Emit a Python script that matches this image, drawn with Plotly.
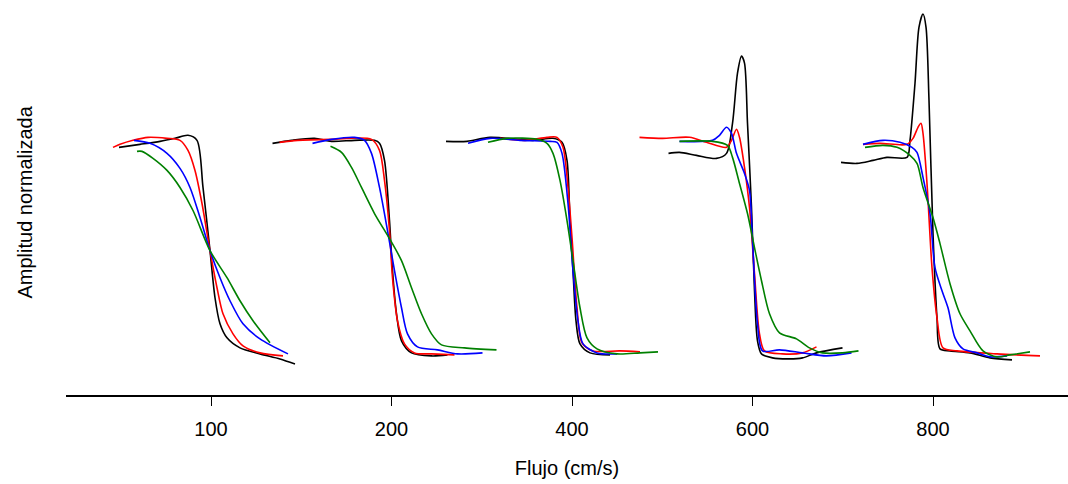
import plotly.graph_objects as go

# Flow categories (tick labels) and the four traces per category.
# Each series: (offset from the category centre, amplitude) pairs.
FLOWS = ["100", "200", "400", "600", "800"]
COLORS = {"black": "#000000", "red": "#FF0000", "blue": "#0000FF", "green": "#008000"}

BLACK_100 = [(-92, 205), (-71, 208), (-51, 211), (-36, 214), (-23, 217), (-14, 212), (-8, 165), (-1, 102),
             (4, 55), (9, 29), (16, 15), (29, 5), (49, -1), (69, -6), (84, -11)]
RED_100 = [(-98, 205), (-91, 208), (-78, 212), (-63, 215), (-44, 214), (-31, 212), (-23, 202), (-16, 182),
           (-9, 149), (-1, 102), (6, 65), (12, 39), (22, 19), (32, 7), (49, 0), (72, -3)]
BLUE_100 = [(-77, 212), (-61, 209), (-44, 199), (-31, 184), (-21, 165), (-11, 135), (-1, 102), (9, 75),
            (19, 52), (32, 29), (49, 14), (77, -1)]
GREEN_100 = [(-74, 201), (-69, 201), (-58, 194), (-44, 182), (-31, 165), (-18, 142), (-1, 102), (16, 75),
             (29, 52), (42, 32), (59, 10)]

BLACK_200 = [(-119, 209), (-100, 212), (-77, 214), (-60, 211), (-37, 212), (-17, 212), (-12, 209), (-7, 192),
             (-2, 132), (1, 82), (5, 39), (10, 12), (20, 0), (40, -3), (56, -2)]
RED_200 = [(-112, 210), (-94, 212), (-60, 213), (-20, 213), (-12, 202), (-7, 172), (-2, 122), (1, 75),
           (6, 32), (13, 9), (23, 0), (40, -1), (63, -2)]
BLUE_200 = [(-79, 209), (-60, 213), (-37, 215), (-27, 212), (-20, 199), (-12, 165), (-4, 122), (3, 82),
            (10, 45), (16, 19), (26, 6), (46, 3), (66, -1), (91, 0)]
GREEN_200 = [(-61, 206), (-50, 200), (-40, 185), (-30, 165), (-17, 139), (-2, 114), (10, 92), (20, 65),
             (30, 39), (40, 19), (50, 8), (73, 5), (105, 3)]

BLACK_400 = [(-126, 211), (-105, 211), (-82, 215), (-39, 212), (-19, 214), (-10, 210), (-5, 192), (-2, 132),
             (1, 82), (4, 32), (8, 9), (18, 0), (38, -2)]
RED_400 = [(-72, 214), (-47, 212), (-25, 215), (-15, 215), (-9, 205), (-4, 165), (0, 115), (5, 45),
           (10, 10), (21, 2), (48, 2), (68, 1)]
BLUE_400 = [(-104, 209), (-82, 214), (-52, 212), (-22, 211), (-15, 210), (-10, 199), (-4, 149), (1, 82),
            (6, 32), (11, 9), (25, 0), (45, -1)]
GREEN_400 = [(-84, 210), (-65, 214), (-35, 213), (-25, 209), (-19, 199), (-12, 172), (-5, 132), (1, 92),
             (8, 45), (15, 15), (25, 4), (45, -1), (68, 0), (86, 1)]

BLACK_600 = [(-84, 199), (-73, 200), (-56, 197), (-36, 194), (-26, 199), (-20, 229), (-15, 279), (-11, 296),
             (-8, 289), (-5, 229), (-1, 145), (2, 62), (5, 12), (9, -1), (20, -5), (37, -6), (50, -5),
             (64, 0), (90, 5)]
RED_600 = [(-113, 215), (-90, 214), (-63, 215), (-46, 210), (-26, 205), (-21, 212), (-16, 223), (-13, 215),
           (-8, 185), (-3, 145), (2, 79), (7, 19), (12, 2), (30, -1), (50, 0), (64, 6)]
BLUE_600 = [(-73, 211), (-40, 212), (-33, 217), (-26, 225), (-21, 219), (-16, 199), (-8, 179), (-3, 162),
            (0, 112), (5, 29), (10, 2), (27, 3), (50, 0), (74, -3), (99, 0)]
GREEN_600 = [(-73, 211), (-40, 211), (-25, 207), (-20, 195), (-13, 169), (-5, 139), (2, 105), (9, 72),
             (17, 39), (27, 20), (44, 14), (57, 5), (70, 0), (90, 0), (106, 2)]

BLACK_800 = [(-92, 190), (-76, 189), (-60, 192), (-46, 195), (-26, 195), (-23, 212), (-18, 269), (-14, 325),
             (-10, 338), (-7, 325), (-4, 252), (0, 119), (4, 35), (7, 4), (17, 2), (37, 0), (57, -5),
             (79, -7)]
RED_800 = [(-70, 208), (-53, 209), (-26, 208), (-20, 214), (-15, 225), (-12, 229), (-10, 219), (-6, 169),
           (-1, 85), (4, 35), (10, 5), (24, 2), (64, -1), (107, -3)]
BLUE_800 = [(-70, 208), (-50, 212), (-33, 210), (-21, 205), (-16, 200), (-10, 175), (-3, 139), (2, 85),
            (9, 62), (15, 45), (22, 15), (30, 4), (44, 0), (57, -4), (74, -3)]
GREEN_800 = [(-68, 205), (-50, 207), (-36, 205), (-23, 197), (-16, 189), (-10, 165), (0, 135), (7, 109),
             (17, 69), (27, 39), (37, 22), (50, 2), (64, -4), (77, -2), (97, 1)]

SERIES = {
    "100": {"black": BLACK_100, "red": RED_100, "blue": BLUE_100, "green": GREEN_100},
    "200": {"black": BLACK_200, "red": RED_200, "blue": BLUE_200, "green": GREEN_200},
    "400": {"black": BLACK_400, "red": RED_400, "blue": BLUE_400, "green": GREEN_400},
    "600": {"black": BLACK_600, "red": RED_600, "blue": BLUE_600, "green": GREEN_600},
    "800": {"black": BLACK_800, "red": RED_800, "blue": BLUE_800, "green": GREEN_800},
}
OFFSET_SCALE = 180.5   # offset units per category step
AMP_NORM = 212.0       # amplitude of the upper plateau

fig = go.Figure()
for gi, flow in enumerate(FLOWS):
    for color in ["black", "red", "blue", "green"]:
        pts = SERIES[flow][color]
        xs = [gi + dx / OFFSET_SCALE for dx, _ in pts]
        ys = [a / AMP_NORM for _, a in pts]
        fig.add_trace(go.Scatter(
            x=xs, y=ys, mode="lines",
            line=dict(color=COLORS[color], width=1.6, shape="spline", smoothing=0.8),
            showlegend=False, hoverinfo="skip"))

FONT = "Liberation Sans, Arial, Helvetica, sans-serif"
fig.update_layout(
    width=1068, height=484,
    margin=dict(l=66, r=0, t=10, b=89),
    plot_bgcolor="white", paper_bgcolor="white",
    font=dict(family=FONT, size=20, color="black"),
    xaxis=dict(
        range=[-145 / OFFSET_SCALE, 857 / OFFSET_SCALE],
        tickmode="array", tickvals=list(range(len(FLOWS))), ticktext=FLOWS,
        ticks="outside", ticklen=9, tickwidth=1, tickcolor="black",
        ticklabelstandoff=6,
        showline=True, linecolor="black", linewidth=1.5,
        showgrid=False, zeroline=False,
        tickfont=dict(family=FONT, size=20),
        title=dict(text="Flujo (cm/s)", font=dict(family=FONT, size=20), standoff=22),
    ),
    yaxis=dict(
        range=[-42 / AMP_NORM, 342 / AMP_NORM],
        showticklabels=False, ticks="", showline=False, showgrid=False, zeroline=False,
    ),
    annotations=[dict(
        text="Amplitud normalizada", textangle=-90,
        xref="paper", yref="paper", x=0, y=0.5, xshift=-42,
        xanchor="center", yanchor="middle", showarrow=False,
        font=dict(family=FONT, size=20, color="black"),
    )],
)

fig.write_html("out.html")
